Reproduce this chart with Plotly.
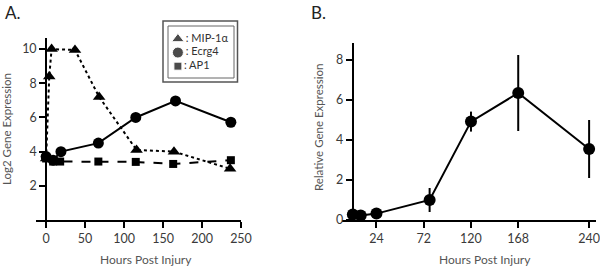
import plotly.graph_objects as go

# ---------------- Data ----------------
# Panel A: Log2 gene expression
mip_hours = [0, 4, 7, 37, 68, 116, 164, 236]
mip_vals = [3.6, 8.4, 10.0, 9.95, 7.2, 4.1, 4.0, 3.0]

ecrg_hours = [0, 9, 19, 67, 115, 166, 237]
ecrg_vals = [3.71, 3.5, 4.0, 4.5, 6.0, 6.97, 5.72]

ap1_hours = [0, 9, 18, 67, 115, 163, 237]
ap1_vals = [3.6, 3.42, 3.42, 3.42, 3.4, 3.28, 3.5]

a_xticks = [0, 50, 100, 150, 200, 250]
a_yticks = [2, 4, 6, 8, 10]

legend_names = ["MIP-1\u03b1", "Ecrg4", "AP1"]
legend_symbols = ["triangle-up", "circle", "square"]

# Panel B: Relative gene expression
b_hours = [0, 8, 24, 78, 120, 168, 240]
b_vals = [0.28, 0.22, 0.32, 1.0, 4.92, 6.35, 3.55]
b_err = [0, 0, 0, 0.6, 0.5, 1.9, 1.45]

b_xticks = [24, 72, 120, 168, 240]
b_yticks = [0, 2, 4, 6, 8]

# ---------------- Layout constants ----------------
W, H = 600, 267
FONT = "Lato"
TICKC = "#3a3a3a"
TITLEC = "#555555"


def px(x):
    return x / W


def py(y):
    return 1 - y / H


a_xrange = [-13, 250]
a_dom = [px(36), px(241)]
b_xrange = [-11, 247]
b_dom = [px(342), px(596)]


def zero_pos(dom, rng):
    return dom[0] + (0 - rng[0]) / (rng[1] - rng[0]) * (dom[1] - dom[0])


fig = go.Figure()

# Panel A traces
fig.add_trace(go.Scatter(x=mip_hours, y=mip_vals, mode="lines+markers",
                         line=dict(color="black", width=2, dash="dot"),
                         marker=dict(symbol="triangle-up", size=11, color="black"),
                         xaxis="x", yaxis="y", showlegend=False))
fig.add_trace(go.Scatter(x=ap1_hours, y=ap1_vals, mode="lines+markers",
                         line=dict(color="black", width=2, dash="dash"),
                         marker=dict(symbol="square", size=8, color="black"),
                         xaxis="x", yaxis="y", showlegend=False))
fig.add_trace(go.Scatter(x=ecrg_hours, y=ecrg_vals, mode="lines+markers",
                         line=dict(color="black", width=2),
                         marker=dict(symbol="circle", size=11, color="black"),
                         xaxis="x", yaxis="y", showlegend=False))

# Key (legend) drawn on its own small axes: one marker + label per series
fig.add_trace(go.Scatter(x=[0] * len(legend_names), y=legend_names,
                         mode="markers+text",
                         text=[": " + n for n in legend_names],
                         textposition="middle right",
                         textfont=dict(family=FONT, size=11, color="#333333"),
                         marker=dict(symbol=legend_symbols, size=[11, 11, 8], color="black"),
                         xaxis="x3", yaxis="y3", showlegend=False, cliponaxis=False))

# Panel B trace
fig.add_trace(go.Scatter(x=b_hours, y=b_vals, mode="lines+markers",
                         line=dict(color="black", width=2),
                         marker=dict(symbol="circle", size=12, color="black"),
                         error_y=dict(type="data", array=b_err, visible=True,
                                      color="black", thickness=2, width=0),
                         xaxis="x2", yaxis="y2", showlegend=False))

axis_common = dict(showline=True, linecolor="black", linewidth=2, ticks="outside",
                   ticklen=6, tickwidth=2, tickcolor="black", showgrid=False,
                   zeroline=False, automargin=False,
                   tickfont=dict(family=FONT, size=12.5, color=TICKC))

hidden = dict(visible=False, showgrid=False, zeroline=False, automargin=False, fixedrange=True)

fig.update_layout(
    width=W, height=H,
    margin=dict(l=0, r=0, t=0, b=0),
    paper_bgcolor="white", plot_bgcolor="white",
    font=dict(family=FONT, color=TICKC),
    xaxis=dict(domain=a_dom, range=a_xrange, tickvals=a_xticks, anchor="y", **axis_common),
    yaxis=dict(domain=[py(220), py(38)], range=[0, 10.65], tickvals=a_yticks,
               anchor="free", position=zero_pos(a_dom, a_xrange), **axis_common),
    xaxis2=dict(domain=b_dom, range=b_xrange, tickvals=b_xticks, anchor="y2", **axis_common),
    yaxis2=dict(domain=[py(220), py(43)], range=[0, 8.85], tickvals=b_yticks,
                anchor="free", position=zero_pos(b_dom, b_xrange), **axis_common),
    # key axes: inner box spans x 168..234, y 26..78 px
    xaxis3=dict(domain=[px(168), px(234)], range=[-0.15, 0.85], anchor="y3", **hidden),
    yaxis3=dict(domain=[py(78), py(26)], range=[2.87, -0.95], type="category",
                anchor="x3", **hidden),
    showlegend=False,
)

# Key double border
fig.add_shape(type="rect", xref="paper", yref="paper",
              x0=px(163), x1=px(237.5), y0=py(82), y1=py(21),
              line=dict(color="#555555", width=1.5))
fig.add_shape(type="rect", xref="paper", yref="paper",
              x0=px(168), x1=px(234), y0=py(78), y1=py(26),
              line=dict(color="#666666", width=1))

# Panel labels and axis titles
ann = [
    dict(text="A.", x=px(3), y=py(12), xanchor="left", yanchor="middle",
         font=dict(family=FONT, size=17, color="#222222")),
    dict(text="B.", x=px(309), y=py(12), xanchor="left", yanchor="middle",
         font=dict(family=FONT, size=17, color="#222222")),
    dict(text="Log2 Gene Expression", x=px(6), y=py(129), textangle=-90,
         xanchor="center", yanchor="middle",
         font=dict(family=FONT, size=11.5, color=TITLEC)),
    dict(text="Hours Post Injury", x=px(146), y=py(259), xanchor="center", yanchor="middle",
         font=dict(family=FONT, size=12, color=TITLEC)),
    dict(text="Relative Gene Expression", x=px(318), y=py(128), textangle=-90,
         xanchor="center", yanchor="middle",
         font=dict(family=FONT, size=11.5, color=TITLEC)),
    dict(text="Hours Post Injury", x=px(485), y=py(259), xanchor="center", yanchor="middle",
         font=dict(family=FONT, size=12, color=TITLEC)),
]
for a in ann:
    fig.add_annotation(xref="paper", yref="paper", showarrow=False, **a)

fig.write_html("out.html",
               config={"displayModeBar": False},
               post_script="document.body.style.margin='0px';document.body.style.padding='0px';")
